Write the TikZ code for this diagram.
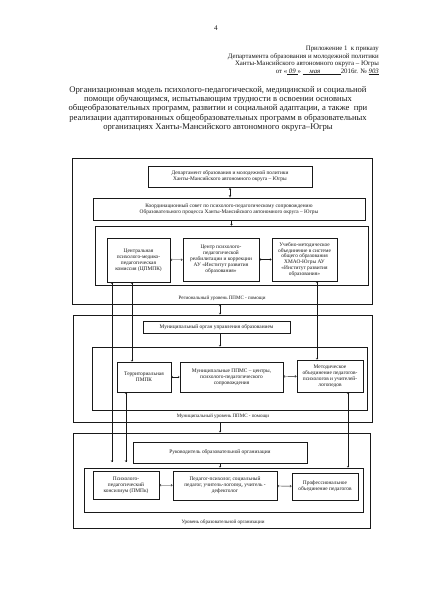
\documentclass[tikz,border=0pt]{standalone}
\usepackage{fontspec}
\setmainfont{Liberation Serif}
\usepackage{tikz}
\usetikzlibrary{arrows.meta}
\definecolor{scanInk}{RGB}{25,25,25}

\begin{document}
\begin{tikzpicture}[x=0.049cm,y=-0.049cm,
  sz/.style 2 args={minimum width=#1*0.049cm, minimum height=#2*0.049cm},
  blk/.style={draw, color=scanInk, line width=1pt, align=center, inner sep=1pt, font=\fontsize{7.5}{8.2}\selectfont},
  frm/.style={draw, color=scanInk, line width=1.3pt, inner sep=0pt},
  lvl/.style={text=scanInk, font=\fontsize{7}{8}\selectfont},
  dbl/.style={scanInk, line width=0.5pt, {Straight Barb[length=2pt,width=3pt]}-{Straight Barb[length=2pt,width=3pt]}},
  one/.style={scanInk, line width=0.5pt, -{Straight Barb[length=2pt,width=3pt]}},
  hol/.style={scanInk, line width=0.5pt, {Latex[open,length=3pt,width=3.5pt]}-{Latex[open,length=3pt,width=3.5pt]}}]
\useasboundingbox[fill=white] (0,0) rectangle (429,598);

\node[text=scanInk, font=\fontsize{10}{11}\selectfont] (pgnum) at (216,28) {4};
\node[text=scanInk, anchor=north east, align=right, inner sep=0pt, font=\fontsize{9.5}{10.4}\selectfont] (annex) at (379,46)
  {Приложение 1\ \ к приказу\\
   Департамента образования и молодежной политики\\
   Ханты-Мансийского автономного округа – Югры\\
   от «\underline{\textit{\ 09\ }}» \underline{\textit{\quad мая}\hspace{3em}}2016г. № \underline{\textit{903}}};
\node[text=scanInk, anchor=north, align=center, inner sep=0pt, font=\fontsize{12}{13.2}\selectfont] (title) at (218,86)
  {Организационная модель психолого-педагогической, медицинской и социальной\\
   помощи обучающимся, испытывающим трудности в освоении основных\\
   общеобразовательных программ, развитии и социальной адаптации, а также\ \ при\\
   реализации адаптированных общеобразовательных программ в образовательных\\
   организациях Ханты-Мансийского автономного округа–Югры};

\node[frm, sz={300}{146}] (regfr) at (222,231) {};
\node[blk, sz={164}{21}] (dep) at (230,176.5) {Департамент образования и молодежной политики\\ Ханты-Мансийского автономного округа – Югры};
\node[blk, sz={272}{22}] (coord) at (229,209) {Координационный совет по психолого-педагогическому сопровождению\\ Образовательного процесса Ханты-Мансийского автономного округа – Югры};
\node[frm, line width=1pt, sz={273}{59}] (reginner) at (231.5,255.5) {};
\node[blk, sz={63}{44}] (cpmpk) at (138.5,260) {Центральная\\ психолого-медико-\\ педагогическая\\ комиссия (ЦПМПК)};
\node[blk, sz={76}{43}] (crc) at (221,259.5) {Центр психолого-\\ педагогической\\ реабилитации и коррекции\\ АУ «Институт развития\\ образования»};
\node[blk, sz={65}{43}] (umo) at (304.5,259.5) {Учебно-методическое\\ объединение в системе\\ общего образования\\ ХМАО-Югры АУ\\ «Институт развития\\ образования»};
\node[lvl] (reglbl) at (222,298) {Региональный уровень ППМС - помощи};

\node[frm, sz={299}{107}] (munfr) at (222.5,368.5) {};
\node[blk, sz={147}{12}] (munorg) at (216.5,327) {Муниципальный орган управления образованием};
\node[frm, line width=1pt, sz={275}{63}] (muninner) at (229.5,378.5) {};
\node[blk, sz={54}{30}] (tpmpk) at (144,377) {Территориальная\\ ПМПК};
\node[blk, sz={103}{30}] (ppms) at (231.5,377) {Муниципальные ППМС – центры,\\ психолого-педагогического\\ сопровождения};
\node[blk, sz={66}{32}] (mo) at (330,376) {Методическое\\ объединение педагогов-\\ психологов и учителей-\\ логопедов};
\node[lvl] (munlbl) at (223,416) {Муниципальный уровень ППМС - помощи};

\node[frm, sz={297}{95}] (schfr) at (221.5,480.5) {};
\node[blk, sz={174}{21}] (head) at (220,452.5) {Руководитель образовательной организации};
\node[frm, line width=1pt, sz={279}{44}] (schinner) at (223.5,490) {};
\node[blk, sz={66}{28}] (pmpk) at (126,485) {Психолого-\\ педагогический\\ консилиум (ПМПк)};
\node[blk, sz={104}{29}] (ped) at (225,485.5) {Педагог-психолог, социальный\\ педагог, учитель-логопед, учитель -\\ дефектолог};
\node[blk, sz={66}{27}] (prof) at (325,486.5) {Профессиональное\\ объединение педагогов};
\node[lvl] (schlbl) at (223,522) {Уровень образовательной организации};

\coordinate (xa) at (112,462);
\coordinate (xb) at (132,0);
\coordinate (xc) at (126,462);
\coordinate (xd) at (317,0);
\coordinate (xe) at (348,0);
\coordinate (xm) at (220,0);

\draw[hol] (dep.south) -- (dep.south |- coord.north);
\draw[one] (coord.south -| reginner) -- (reginner.north);
\draw[dbl] (cpmpk) -- (crc);
\draw[dbl] (crc) -- (umo);
\draw[dbl] (regfr.south -| xm) -- (munfr.north -| xm);
\draw[one] (munorg.south -| xm) -- (muninner.north -| xm);
\draw[dbl] (tpmpk) -- (ppms);
\draw[dbl] (ppms) -- (mo);
\draw[one] (munfr.south -| xm) -- (schfr.north -| xm);
\draw[one] (head.south -| xm) -- (schinner.north -| xm);
\draw[dbl] (pmpk) -- (ped);
\draw[dbl] (ped) -- (prof);

\draw[dbl] (cpmpk.south -| xa) -- (xa);
\draw[dbl] (cpmpk.south -| xb) -- (tpmpk.north -| xb);
\draw[dbl] (tpmpk.south -| xc) -- (xc);
\draw[dbl] (umo.south -| xd) -- (mo.north -| xd);
\draw[dbl] (mo.south -| xe) -- (schinner.north -| xe);
\end{tikzpicture}
\end{document}
